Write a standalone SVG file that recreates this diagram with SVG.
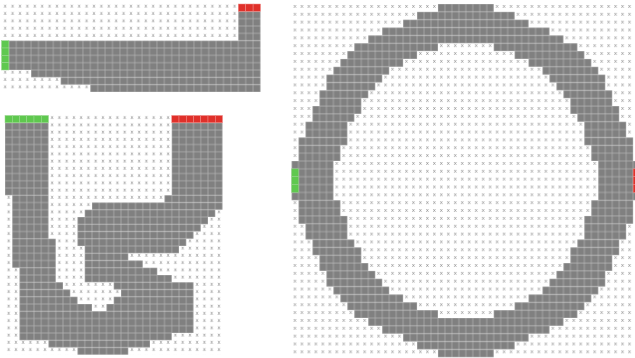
<svg xmlns="http://www.w3.org/2000/svg" width="635" height="358" viewBox="0 0 635 358">
<style>
.xm{font-family:"DejaVu Sans",sans-serif;font-size:5.5px;fill:#8a8a8a;text-anchor:middle}
.gc{fill:#5fc84f;stroke:#9ad88f;stroke-width:0.5}
.rc{fill:#e0302a;stroke:#ee8a86;stroke-width:0.5}
</style>
<defs>
<pattern id="x1" patternUnits="userSpaceOnUse" x="1.5" y="4" width="7.4" height="7.333"><text class="xm" x="3.7" y="4">x</text></pattern>
<pattern id="x2" patternUnits="userSpaceOnUse" x="5" y="115.5" width="7.25" height="7.25"><text class="xm" x="3.625" y="4">x</text></pattern>
<pattern id="x3" patternUnits="userSpaceOnUse" x="291.6" y="4" width="6.97" height="7.85"><text class="xm" x="3.485" y="4.2">x</text></pattern>
<pattern id="g1" patternUnits="userSpaceOnUse" x="1.5" y="4" width="7.4" height="7.333"><rect width="7.4" height="7.333" fill="#808080" stroke="#b4b4b4" stroke-width="0.7"/></pattern>
<pattern id="g2" patternUnits="userSpaceOnUse" x="5" y="115.5" width="7.25" height="7.25"><rect width="7.25" height="7.25" fill="#808080" stroke="#b4b4b4" stroke-width="0.7"/></pattern>
<pattern id="g3" patternUnits="userSpaceOnUse" x="291.6" y="4" width="6.97" height="7.85"><rect width="6.97" height="7.85" fill="#808080" stroke="#b4b4b4" stroke-width="0.7"/></pattern>
</defs>
<rect width="635" height="358" fill="#ffffff"/>

<g id="panel1">
<rect x="1.5" y="4" width="259" height="88" fill="url(#x1)"/>
<g fill="url(#g1)">
<rect x="238.3" y="11.333" width="22.2" height="29.333"/>
<rect x="8.9" y="40.667" width="251.6" height="29.333"/>
<rect x="31.1" y="70" width="229.4" height="7.333"/>
<rect x="60.7" y="77.333" width="199.8" height="7.333"/>
<rect x="90.3" y="84.667" width="170.2" height="7.333"/>
</g>
<g id="p1-end">
<rect class="rc" x="238.3" y="4" width="7.4" height="7.333"/>
<rect class="rc" x="245.7" y="4" width="7.4" height="7.333"/>
<rect class="rc" x="253.1" y="4" width="7.4" height="7.333"/>
</g>
<g id="p1-start">
<rect class="gc" x="1.5" y="40.667" width="7.4" height="7.333"/>
<rect class="gc" x="1.5" y="48" width="7.4" height="7.333"/>
<rect class="gc" x="1.5" y="55.333" width="7.4" height="7.333"/>
<rect class="gc" x="1.5" y="62.667" width="7.4" height="7.333"/>
</g>
</g>

<g id="panel2">
<rect x="5" y="115.5" width="217.5" height="239.25" fill="url(#x2)"/>
<g fill="url(#g2)">
<rect x="5" y="122.75" width="43.5" height="72.5"/>
<rect x="171.75" y="122.75" width="50.75" height="72.5"/>
<rect x="12.25" y="195.25" width="36.25" height="43.5"/>
<rect x="164.5" y="195.25" width="58" height="7.25"/>
<rect x="92" y="202.5" width="130.5" height="7.25"/>
<rect x="84.75" y="209.75" width="130.5" height="7.25"/>
<rect x="77.5" y="217" width="130.5" height="7.25"/>
<rect x="77.5" y="224.25" width="123.25" height="7.25"/>
<rect x="77.5" y="231.5" width="116" height="7.25"/>
<rect x="12.25" y="238.75" width="43.5" height="29"/>
<rect x="77.5" y="238.75" width="108.75" height="7.25"/>
<rect x="84.75" y="246" width="94.25" height="7.25"/>
<rect x="84.75" y="253.25" width="43.5" height="7.25"/>
<rect x="84.75" y="260.5" width="58" height="7.25"/>
<rect x="19.5" y="267.75" width="36.25" height="14.5"/>
<rect x="84.75" y="267.75" width="72.5" height="7.25"/>
<rect x="84.75" y="275" width="87" height="7.25"/>
<rect x="19.5" y="282.25" width="43.5" height="7.25"/>
<rect x="113.75" y="282.25" width="79.75" height="7.25"/>
<rect x="19.5" y="289.5" width="50.75" height="7.25"/>
<rect x="121" y="289.5" width="72.5" height="7.25"/>
<rect x="19.5" y="296.75" width="58" height="7.25"/>
<rect x="113.75" y="296.75" width="79.75" height="7.25"/>
<rect x="19.5" y="304" width="72.5" height="7.25"/>
<rect x="106.5" y="304" width="87" height="7.25"/>
<rect x="19.5" y="311.25" width="174" height="21.75"/>
<rect x="19.5" y="333" width="152.25" height="7.25"/>
<rect x="48.5" y="340.25" width="101.5" height="7.25"/>
<rect x="77.5" y="347.5" width="50.75" height="7.25"/>
</g>
<g id="p2-start">
<rect class="gc" x="5" y="115.5" width="7.25" height="7.25"/>
<rect class="gc" x="12.25" y="115.5" width="7.25" height="7.25"/>
<rect class="gc" x="19.5" y="115.5" width="7.25" height="7.25"/>
<rect class="gc" x="26.75" y="115.5" width="7.25" height="7.25"/>
<rect class="gc" x="34" y="115.5" width="7.25" height="7.25"/>
<rect class="gc" x="41.25" y="115.5" width="7.25" height="7.25"/>
</g>
<g id="p2-end">
<rect class="rc" x="171.75" y="115.5" width="7.25" height="7.25"/>
<rect class="rc" x="179" y="115.5" width="7.25" height="7.25"/>
<rect class="rc" x="186.25" y="115.5" width="7.25" height="7.25"/>
<rect class="rc" x="193.5" y="115.5" width="7.25" height="7.25"/>
<rect class="rc" x="200.75" y="115.5" width="7.25" height="7.25"/>
<rect class="rc" x="208" y="115.5" width="7.25" height="7.25"/>
<rect class="rc" x="215.25" y="115.5" width="7.25" height="7.25"/>
</g>
</g>

<g id="panel3">
<rect x="291.6" y="4" width="343.4" height="353.25" fill="url(#x3)"/>
<g fill="url(#g3)">
<rect x="437.97" y="4" width="55.76" height="7.85"/>
<rect x="437.97" y="349.4" width="55.76" height="7.85"/>
<rect x="417.06" y="11.85" width="97.58" height="7.85"/>
<rect x="417.06" y="341.55" width="97.58" height="7.85"/>
<rect x="403.12" y="19.7" width="125.46" height="7.85"/>
<rect x="403.12" y="333.7" width="125.46" height="7.85"/>
<rect x="382.21" y="27.55" width="167.28" height="7.85"/>
<rect x="382.21" y="325.85" width="167.28" height="7.85"/>
<rect x="368.27" y="35.4" width="195.16" height="7.85"/>
<rect x="368.27" y="318" width="195.16" height="7.85"/>
<rect x="354.33" y="43.25" width="83.64" height="7.85"/>
<rect x="493.73" y="43.25" width="83.64" height="7.85"/>
<rect x="354.33" y="310.15" width="83.64" height="7.85"/>
<rect x="493.73" y="310.15" width="83.64" height="7.85"/>
<rect x="347.36" y="51.1" width="69.7" height="7.85"/>
<rect x="514.64" y="51.1" width="69.7" height="7.85"/>
<rect x="347.36" y="302.3" width="69.7" height="7.85"/>
<rect x="514.64" y="302.3" width="69.7" height="7.85"/>
<rect x="340.39" y="58.95" width="62.73" height="7.85"/>
<rect x="528.58" y="58.95" width="62.73" height="7.85"/>
<rect x="340.39" y="294.45" width="62.73" height="7.85"/>
<rect x="528.58" y="294.45" width="62.73" height="7.85"/>
<rect x="333.42" y="66.8" width="55.76" height="7.85"/>
<rect x="542.52" y="66.8" width="55.76" height="7.85"/>
<rect x="333.42" y="286.6" width="55.76" height="7.85"/>
<rect x="542.52" y="286.6" width="55.76" height="7.85"/>
<rect x="326.45" y="74.65" width="55.76" height="7.85"/>
<rect x="549.49" y="74.65" width="55.76" height="7.85"/>
<rect x="326.45" y="278.75" width="55.76" height="7.85"/>
<rect x="549.49" y="278.75" width="55.76" height="7.85"/>
<rect x="326.45" y="82.5" width="48.79" height="7.85"/>
<rect x="556.46" y="82.5" width="48.79" height="7.85"/>
<rect x="326.45" y="270.9" width="48.79" height="7.85"/>
<rect x="556.46" y="270.9" width="48.79" height="7.85"/>
<rect x="319.48" y="90.35" width="48.79" height="7.85"/>
<rect x="563.43" y="90.35" width="48.79" height="7.85"/>
<rect x="319.48" y="263.05" width="48.79" height="7.85"/>
<rect x="563.43" y="263.05" width="48.79" height="7.85"/>
<rect x="319.48" y="98.2" width="41.82" height="7.85"/>
<rect x="570.4" y="98.2" width="41.82" height="7.85"/>
<rect x="319.48" y="255.2" width="41.82" height="7.85"/>
<rect x="570.4" y="255.2" width="41.82" height="7.85"/>
<rect x="312.51" y="106.05" width="48.79" height="7.85"/>
<rect x="570.4" y="106.05" width="48.79" height="7.85"/>
<rect x="312.51" y="247.35" width="48.79" height="7.85"/>
<rect x="570.4" y="247.35" width="48.79" height="7.85"/>
<rect x="312.51" y="113.9" width="41.82" height="7.85"/>
<rect x="577.37" y="113.9" width="41.82" height="7.85"/>
<rect x="312.51" y="239.5" width="41.82" height="7.85"/>
<rect x="577.37" y="239.5" width="41.82" height="7.85"/>
<rect x="305.54" y="121.75" width="41.82" height="15.7"/>
<rect x="584.34" y="121.75" width="41.82" height="15.7"/>
<rect x="305.54" y="223.8" width="41.82" height="15.7"/>
<rect x="584.34" y="223.8" width="41.82" height="15.7"/>
<rect x="298.57" y="137.45" width="48.79" height="7.85"/>
<rect x="584.34" y="137.45" width="48.79" height="7.85"/>
<rect x="298.57" y="215.95" width="48.79" height="7.85"/>
<rect x="584.34" y="215.95" width="48.79" height="7.85"/>
<rect x="298.57" y="145.3" width="41.82" height="15.7"/>
<rect x="591.31" y="145.3" width="41.82" height="15.7"/>
<rect x="298.57" y="200.25" width="41.82" height="15.7"/>
<rect x="591.31" y="200.25" width="41.82" height="15.7"/>
<rect x="291.6" y="161" width="41.82" height="39.25"/>
<rect x="598.28" y="161" width="41.82" height="39.25"/>
</g>
<g id="p3-start">
<rect class="gc" x="291.6" y="168.85" width="6.97" height="7.85"/>
<rect class="gc" x="291.6" y="176.7" width="6.97" height="7.85"/>
<rect class="gc" x="291.6" y="184.55" width="6.97" height="7.85"/>
</g>
<g id="p3-end">
<rect class="rc" x="633.13" y="168.85" width="6.97" height="7.85"/>
<rect class="rc" x="633.13" y="176.7" width="6.97" height="7.85"/>
<rect class="rc" x="633.13" y="184.55" width="6.97" height="7.85"/>
</g>
</g>
</svg>
